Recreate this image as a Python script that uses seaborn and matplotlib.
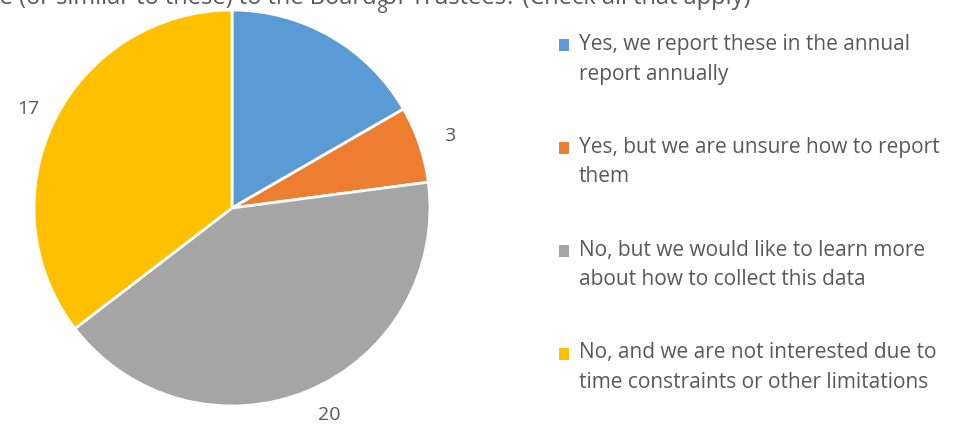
import matplotlib.pyplot as plt
import seaborn as sns
from matplotlib.patches import Patch

categories = [
    "Yes, we report these in the annual\nreport annually",
    "Yes, but we are unsure how to report\nthem",
    "No, but we would like to learn more\nabout how to collect this data",
    "No, and we are not interested due to\ntime constraints or other limitations",
]
counts = [8, 3, 20, 17]
colors = ["#5B9BD5", "#ED7D31", "#A5A5A5", "#FFC000"]
title = "Do you report any of these (or similar to these) to the Board of Trustees? (Check all that apply)"

sns.set_theme(style="white")
plt.rcParams['font.family'] = ['Open Sans', 'DejaVu Sans']
text_color = "#595959"

fig = plt.figure(figsize=(9.55, 4.24), dpi=100)
ax = fig.add_axes([(232 - 198) / 955, 1 - (208 + 198) / 424, 396 / 955, 396 / 424])

wedges, texts = ax.pie(
    counts, labels=[str(c) for c in counts], colors=colors,
    startangle=90, counterclock=False, labeldistance=1.13,
    wedgeprops=dict(edgecolor="white", linewidth=2),
    textprops=dict(color=text_color, fontsize=14),
)
texts[0].set_position((0.73, 1.01))
x17, y17 = texts[3].get_position()
texts[3].set_position((x17 + 0.04, y17))
ax.set_xlim(-1, 1)
ax.set_ylim(-1, 1)
ax.set_aspect("equal")
ax.axis("off")

handles = [Patch(facecolor=c, edgecolor="none") for c in colors]
leg = fig.legend(
    handles, categories, loc="upper left", bbox_to_anchor=(540 / 955, 1 - 15 / 424),
    frameon=False, fontsize=15, labelspacing=2.5, handlelength=0.5, handleheight=0.5,
    handletextpad=0.45, labelcolor=text_color,
)
for t in leg.get_texts():
    t.set_linespacing(1.55)
# align the squares with the first line of each entry
for h in leg.legend_handles:
    h.set_y(h.get_y() + 10.5)

fig.text(750 / 955, 1 - 4 / 424, title, ha="right", va="baseline",
         fontsize=17, color=text_color)

fig.savefig("out.png", dpi=100)
